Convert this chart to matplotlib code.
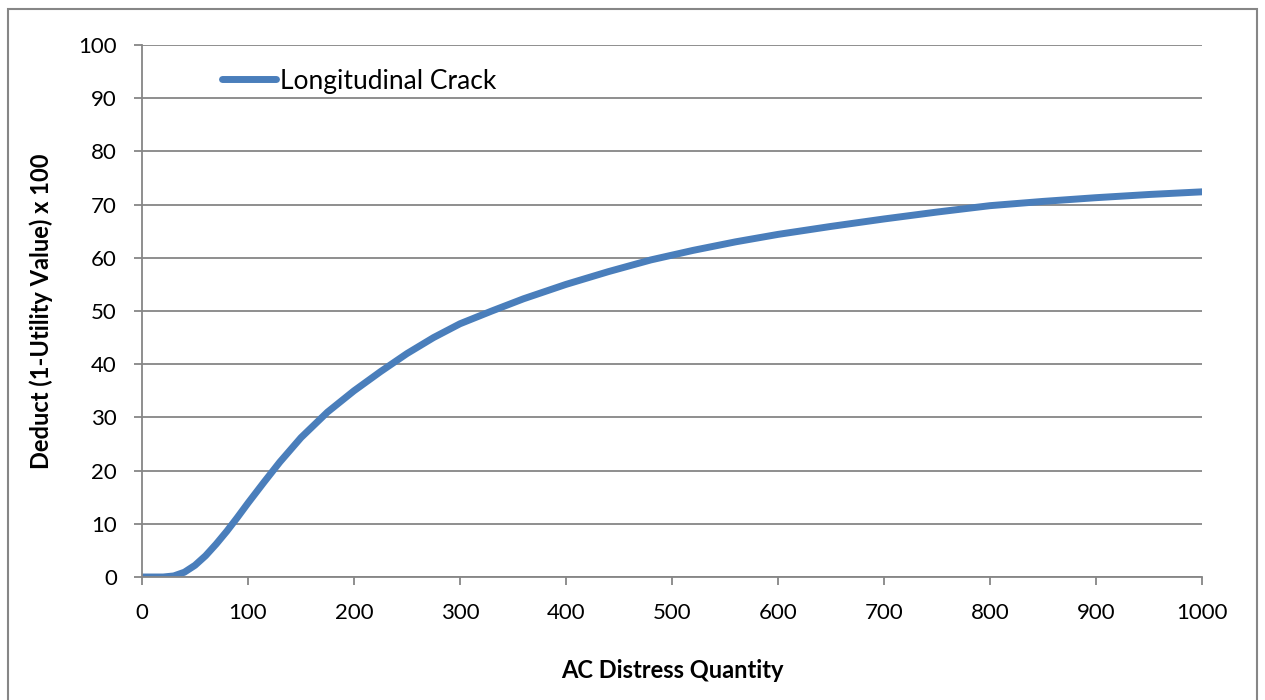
import matplotlib
matplotlib.use("Agg")
import matplotlib.pyplot as plt
from matplotlib.patches import Rectangle

# deduct curve read at the distress quantities below
quantity = [0, 20, 30, 40, 50, 60, 70, 80, 90, 100, 115, 130, 150, 175, 200,
            225, 250, 275, 300, 330, 360, 400, 440, 480, 520, 560, 600, 650,
            700, 750, 800, 850, 900, 950, 1000]
deduct = [0, 0, 0.2, 0.9, 2.2, 4.0, 6.2, 8.6, 11.2, 13.9, 17.8, 21.6, 26.2,
          31.0, 35.0, 38.6, 42.0, 45.0, 47.6, 50.0, 52.3, 55.0, 57.4, 59.6,
          61.4, 63.0, 64.4, 65.9, 67.3, 68.6, 69.8, 70.6, 71.3, 71.9, 72.4]
x_ticks = [0, 100, 200, 300, 400, 500, 600, 700, 800, 900, 1000]
y_ticks = [0, 10, 20, 30, 40, 50, 60, 70, 80, 90, 100]

plt.rcParams['font.family'] = ['Lato', 'DejaVu Sans']
grey = '#868686'

fig = plt.figure(figsize=(12.65, 7), dpi=100)
fig.patches.append(Rectangle((8 / 1265, -0.05), 1249 / 1265, 1.05 - 9 / 700,
                             transform=fig.transFigure, fill=False,
                             edgecolor=grey, linewidth=1.5))
ax = fig.add_axes([142 / 1265, 1 - 577 / 700, 1060 / 1265, 532 / 700])

ax.plot(quantity, deduct, color='#4A7EBB', linewidth=5,
        solid_capstyle='round', solid_joinstyle='round',
        label='Longitudinal Crack')

ax.set_xlim(0, 1000)
ax.set_ylim(0, 100)
ax.set_xticks(x_ticks)
ax.set_yticks(y_ticks)
ax.grid(axis='y', color=grey, linewidth=1.3)
ax.set_axisbelow(True)
for side in ['top', 'right']:
    ax.spines[side].set_visible(False)
for side in ['left', 'bottom']:
    ax.spines[side].set_color(grey)
    ax.spines[side].set_linewidth(1.3)
ax.tick_params(axis='both', colors=grey, width=1.3, length=6,
               labelsize=16, labelcolor='black')
ax.tick_params(axis='x', pad=13)
ax.tick_params(axis='y', pad=12)

ax.set_xlabel('AC Distress Quantity', fontsize=17, fontweight='bold', labelpad=26)
ax.set_ylabel('Deduct (1-Utility Value) x 100', fontsize=17, fontweight='bold',
              labelpad=18)

ax.legend(loc='center left', bbox_to_anchor=(80 / 1060, 496 / 532),
          frameon=False, fontsize=19, handlelength=2.05, handletextpad=0.15,
          borderpad=0, borderaxespad=0)

fig.savefig('out.png', dpi=100)
